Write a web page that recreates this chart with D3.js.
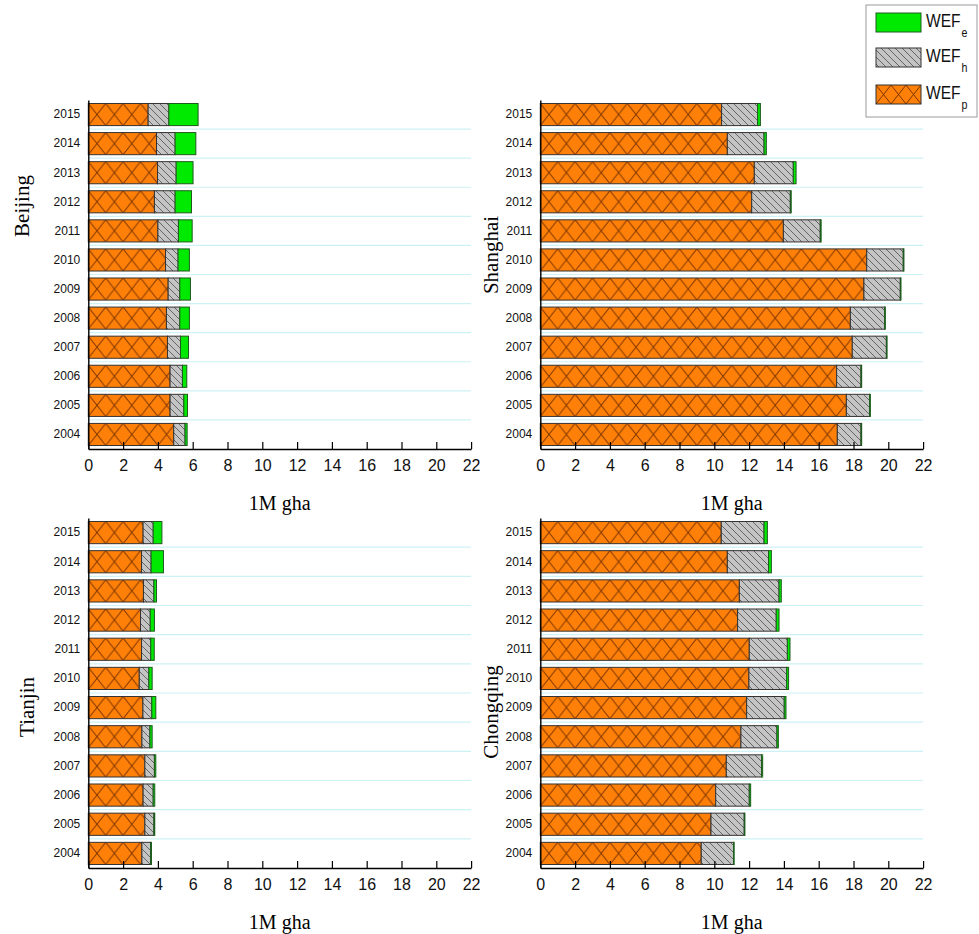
<!DOCTYPE html>
<html>
<head>
<meta charset="utf-8">
<script src="https://cdn.jsdelivr.net/npm/d3@7"></script>
<style>
  body { margin: 0; background: #fff; }
  svg { display: block; }
</style>
</head>
<body>
<div id="chart"></div>
<script>
// years, bottom to top
const years = [2004, 2005, 2006, 2007, 2008, 2009, 2010, 2011, 2012, 2013, 2014, 2015];
const xTicks = [0, 2, 4, 6, 8, 10, 12, 14, 16, 18, 20, 22];

// segment values, 1M gha
const beijingP = [4.91, 4.70, 4.70, 4.55, 4.49, 4.59, 4.44, 4.00, 3.80, 3.98, 3.92, 3.44];
const beijingH = [0.65, 0.79, 0.71, 0.75, 0.77, 0.67, 0.72, 1.18, 1.19, 1.07, 1.07, 1.19];
const beijingE = [0.12, 0.21, 0.25, 0.46, 0.55, 0.61, 0.65, 0.79, 0.94, 0.97, 1.19, 1.68];

const shanghaiP = [17.07, 17.59, 17.03, 17.93, 17.82, 18.60, 18.76, 13.97, 12.15, 12.30, 10.75, 10.42];
const shanghaiH = [1.36, 1.34, 1.40, 1.96, 1.97, 2.09, 2.10, 2.12, 2.22, 2.24, 2.11, 2.07];
const shanghaiE = [0.04, 0.04, 0.04, 0.04, 0.04, 0.04, 0.04, 0.05, 0.05, 0.16, 0.13, 0.16];

const tianjinP = [3.08, 3.25, 3.15, 3.25, 3.08, 3.14, 2.93, 3.06, 3.00, 3.17, 3.06, 3.15];
const tianjinH = [0.50, 0.52, 0.58, 0.55, 0.46, 0.51, 0.55, 0.53, 0.56, 0.60, 0.55, 0.58];
const tianjinE = [0.05, 0.05, 0.09, 0.08, 0.13, 0.23, 0.19, 0.20, 0.24, 0.15, 0.71, 0.50];

const chongqingP = [9.25, 9.81, 10.08, 10.69, 11.53, 11.86, 11.99, 12.01, 11.34, 11.44, 10.75, 10.40];
const chongqingH = [1.86, 1.91, 1.93, 2.03, 2.07, 2.16, 2.17, 2.19, 2.22, 2.28, 2.37, 2.46];
const chongqingE = [0.03, 0.04, 0.08, 0.06, 0.08, 0.10, 0.11, 0.15, 0.16, 0.13, 0.16, 0.19];

const width = 979, height = 934;
const svg = d3.select("#chart").append("svg")
    .attr("width", width)
    .attr("height", height);
const defs = svg.append("defs");

const ORANGE = "#ff8008", GRAY = "#c4c4c4", GREEN = "#00ea00";

// grey "\" hatch
const gp = defs.append("pattern")
    .attr("id", "hatchGray")
    .attr("patternUnits", "userSpaceOnUse")
    .attr("width", 7).attr("height", 7);
gp.append("rect").attr("width", 7).attr("height", 7).attr("fill", GRAY);
gp.append("path")
    .attr("d", "M0,0L7,7M-1,6L1,8M6,-1L8,1")
    .attr("stroke", "#5a5a5a").attr("stroke-width", 0.9);

// orange diamond hatch, one tile per bar row
function diamondPattern(id, x, y, w, h, tileH) {
    const p = defs.append("pattern")
        .attr("id", id)
        .attr("patternUnits", "userSpaceOnUse")
        .attr("x", x).attr("y", y)
        .attr("width", w).attr("height", tileH);
    p.append("rect").attr("width", w).attr("height", tileH).attr("fill", ORANGE);
    p.append("path")
        .attr("d", `M0,0L${w},${h}M${w},0L0,${h}`)
        .attr("stroke", "#7a3300").attr("stroke-width", 1);
}

const panels = [
    { name: "Beijing", p: beijingP, h: beijingH, e: beijingE, x0: 88.3, top: 100, bottom: 449, lx: 22, ly: 206 },
    { name: "Shanghai", p: shanghaiP, h: shanghaiH, e: shanghaiE, x0: 540.3, top: 100, bottom: 449, lx: 491, ly: 255 },
    { name: "Tianjin", p: tianjinP, h: tianjinH, e: tianjinE, x0: 88.3, top: 518, bottom: 868, lx: 27, ly: 707 },
    { name: "Chongqing", p: chongqingP, h: chongqingH, e: chongqingE, x0: 540.3, top: 518, bottom: 868, lx: 491, ly: 712 }
];

const unit = 17.4;

panels.forEach((pn, idx) => {
    const x = d3.scaleLinear().domain([0, 22]).range([pn.x0, pn.x0 + 22 * unit]);
    const y = d3.scaleBand()
        .domain(years.slice().reverse())
        .range([pn.top, pn.bottom])
        .paddingInner(0.24)
        .paddingOuter(0.12);
    const bw = y.bandwidth();
    const gap = y.step() - bw;

    const pid = "diamond" + idx;
    diamondPattern(pid, pn.x0, y(2015), unit, bw, y.step());

    const g = svg.append("g");

    // light separators between rows
    g.selectAll("line.sep")
        .data(years.slice(1))
        .enter().append("line")
        .attr("class", "sep")
        .attr("x1", x(0)).attr("x2", x(22))
        .attr("y1", d => y(d) + bw + gap / 2)
        .attr("y2", d => y(d) + bw + gap / 2)
        .attr("stroke", "#cdf2f6").attr("stroke-width", 1.2);

    const rows = years.map((yr, i) => ({ year: yr, p: pn.p[i], h: pn.h[i], e: pn.e[i] }));
    const stack = d3.stack().keys(["p", "h", "e"])(rows);
    const fills = { p: `url(#${pid})`, h: "url(#hatchGray)", e: GREEN };

    stack.forEach(layer => {
        g.selectAll(null)
            .data(layer)
            .enter().append("rect")
            .attr("x", d => x(d[0]))
            .attr("y", d => y(d.data.year))
            .attr("width", d => x(d[1]) - x(d[0]))
            .attr("height", bw)
            .attr("fill", fills[layer.key])
            .attr("stroke", layer.key === "e" ? "#1f5a1f" : "#333")
            .attr("stroke-width", 1);
    });

    // x axis, ticks pointing inward
    const xa = g.append("g")
        .attr("transform", `translate(0,${pn.bottom})`)
        .call(d3.axisBottom(x).tickValues(xTicks).tickSizeInner(-7).tickSizeOuter(0).tickPadding(11));
    xa.select(".domain").attr("stroke", "#000").attr("stroke-width", 1.4);
    xa.selectAll(".tick line").attr("stroke", "#000").attr("stroke-width", 1.2);
    xa.selectAll("text")
        .attr("font-family", "Liberation Sans, Arial, sans-serif")
        .attr("font-size", 16).attr("fill", "#111");

    // y axis
    const ya = g.append("g")
        .attr("transform", `translate(${pn.x0},0)`)
        .call(d3.axisLeft(y).tickSize(0).tickPadding(8));
    ya.select(".domain").attr("stroke", "#000").attr("stroke-width", 1.4);
    ya.selectAll("text")
        .attr("font-family", "Liberation Sans, Arial, sans-serif")
        .attr("font-size", 12).attr("fill", "#111");

    // axis title
    g.append("text")
        .attr("x", pn.x0 + 11 * unit)
        .attr("y", pn.bottom + 61)
        .attr("text-anchor", "middle")
        .attr("font-family", "Liberation Serif, Times New Roman, serif")
        .attr("font-size", 20)
        .text("1M gha");

    // panel label
    g.append("text")
        .attr("transform", `translate(${pn.lx},${pn.ly}) rotate(-90)`)
        .attr("text-anchor", "middle")
        .attr("dy", "0.35em")
        .attr("font-family", "Liberation Serif, Times New Roman, serif")
        .attr("font-size", 21)
        .text(pn.name);
});

// legend
const legendItems = [
    { key: "e", fill: GREEN },
    { key: "h", fill: "url(#hatchGray)" },
    { key: "p", fill: "url(#diamondLegend)" }
];
const lg = svg.append("g");
lg.append("rect")
    .attr("x", 866).attr("y", 5).attr("width", 111).attr("height", 112)
    .attr("fill", "#fff").attr("stroke", "#9a9a9a").attr("stroke-width", 1);
const sy = [13, 48, 85];
diamondPattern("diamondLegend", 876, sy[2], 15, 19, 19);
legendItems.forEach((it, i) => {
    lg.append("rect")
        .attr("x", 876).attr("y", sy[i]).attr("width", 45).attr("height", 19)
        .attr("fill", it.fill)
        .attr("stroke", it.key === "e" ? "#1f5a1f" : "#333").attr("stroke-width", 1);
    // narrow label: WEF with subscript in one text element
    const t = lg.append("text")
        .attr("transform", `translate(926,${sy[i] + 14}) scale(0.82,1)`)
        .attr("font-family", "Liberation Sans, Arial, sans-serif")
        .attr("font-size", 19).attr("fill", "#111");
    t.append("tspan").text("WEF");
    t.append("tspan").attr("dy", 10).attr("dx", 1).attr("font-size", 13).text(it.key);
});
</script>
</body>
</html>
